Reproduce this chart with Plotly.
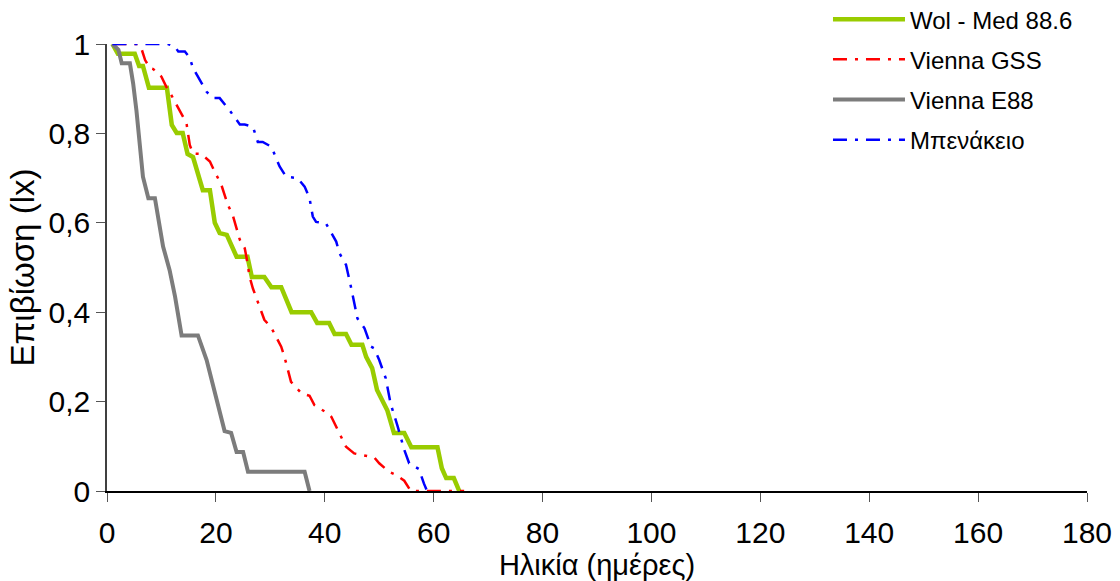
import plotly.graph_objects as go

# survival curves (age in days, lx)
wol_days = [1, 2, 5.1, 5.9, 6.6, 7.7, 11.0, 11.9, 12.8, 13.9, 14.8, 15.8, 17.6, 18.9, 19.8, 20.7,
            22.0, 23.8, 25.8, 26.6, 28.9, 30.2, 32.0, 33.9, 37.5, 38.6, 40.8, 41.8, 43.9, 44.9,
            46.9, 47.6, 48.7, 49.6, 51.5, 52.7, 54.6, 55.9, 60.7, 61.5, 62.3, 63.7, 64.7]
wol_lx = [1.0, 0.978, 0.978, 0.951, 0.951, 0.902, 0.902, 0.819, 0.801, 0.801, 0.754, 0.747, 0.673,
          0.673, 0.600, 0.577, 0.573, 0.524, 0.524, 0.479, 0.479, 0.456, 0.456, 0.400, 0.400,
          0.376, 0.376, 0.351, 0.351, 0.327, 0.327, 0.300, 0.275, 0.226, 0.180, 0.130, 0.130,
          0.098, 0.098, 0.051, 0.029, 0.029, 0.0]

gss_days = [1, 5.7, 6.4, 7.0, 7.9, 8.5, 10.0, 10.9, 11.8, 13.4, 14.6, 15.2, 15.8, 17.3, 18.9, 19.8,
            21.0, 22.2, 23.1, 24.4, 25.3, 25.6, 26.2, 26.8, 28.9, 30.2, 32.0, 32.6, 33.8, 35.7,
            37.2, 38.1, 40.5, 41.2, 43.9, 45.4, 49.1, 50.0, 51.8, 53.1, 54.6, 55.8, 65.6]
gss_lx = [1.0, 1.0, 0.987, 0.964, 0.946, 0.944, 0.927, 0.904, 0.886, 0.849, 0.823, 0.774, 0.755,
          0.754, 0.737, 0.714, 0.685, 0.640, 0.617, 0.562, 0.543, 0.524, 0.479, 0.453, 0.383,
          0.365, 0.323, 0.300, 0.244, 0.219, 0.213, 0.192, 0.174, 0.166, 0.099, 0.084, 0.075,
          0.062, 0.043, 0.036, 0.023, 0.0, 0.0]

e88_days = [1, 2.1, 2.7, 4.2, 4.8, 5.4, 6.6, 7.6, 8.8, 9.7, 10.3, 11.5, 12.5, 13.7, 16.7, 18.3,
            20.4, 21.6, 22.8, 23.8, 25.0, 25.9, 36.3, 37.2]
e88_lx = [1.0, 0.987, 0.957, 0.957, 0.912, 0.852, 0.703, 0.655, 0.655, 0.591, 0.547, 0.494, 0.435,
          0.348, 0.348, 0.293, 0.192, 0.134, 0.130, 0.087, 0.087, 0.043, 0.043, 0.0]

ben_days = [1, 11.2, 12.5, 13.1, 14.3, 15.2, 15.8, 17.0, 18.3, 19.5, 20.7, 22.5, 23.8, 24.4, 25.3,
            26.8, 27.7, 28.6, 30.2, 31.7, 32.9, 35.0, 36.3, 37.2, 37.8, 38.4, 40.2, 42.1, 42.7,
            43.9, 44.8, 46.0, 47.3, 48.5, 49.1, 50.0, 51.2, 52.1, 53.4, 54.6, 55.5, 56.1, 57.3,
            58.2, 58.8]
ben_lx = [1.0, 1.0, 0.994, 0.983, 0.983, 0.969, 0.946, 0.920, 0.893, 0.879, 0.879, 0.852, 0.830,
          0.820, 0.820, 0.815, 0.781, 0.781, 0.770, 0.726, 0.703, 0.700, 0.681, 0.655, 0.614,
          0.602, 0.599, 0.558, 0.532, 0.506, 0.457, 0.386, 0.364, 0.323, 0.319, 0.293, 0.252,
          0.195, 0.144, 0.092, 0.062, 0.058, 0.049, 0.017, 0.0]

FONT = "Liberation Sans, Arial, sans-serif"

fig = go.Figure()
fig.add_trace(go.Scatter(x=wol_days, y=wol_lx, mode="lines", name="Wol - Med 88.6",
                         line=dict(color="#99CC00", width=4.5), legendgroup="a"))
fig.add_trace(go.Scatter(x=gss_days, y=gss_lx, mode="lines", name="Vienna GSS",
                         line=dict(color="#FF0000", width=2.5, dash="14px,8px,3px,8px"),
                         legendgroup="b"))
fig.add_trace(go.Scatter(x=e88_days, y=e88_lx, mode="lines", name="Vienna E88",
                         line=dict(color="#7c7c7c", width=4), legendgroup="c"))
fig.add_trace(go.Scatter(x=ben_days, y=ben_lx, mode="lines", name="Μπενάκειο",
                         line=dict(color="#0000FF", width=2.5, dash="14px,8px,3px,8px"),
                         legendgroup="d"))

fig.update_layout(
    width=1120, height=581,
    margin=dict(l=107, r=33, t=44, b=90, autoexpand=False),
    paper_bgcolor="white", plot_bgcolor="white",
    font=dict(family=FONT, color="black"),
    separators=",.",
    showlegend=True,
    legend=dict(x=0.7357, y=1.105, xanchor="left", yanchor="top",
                font=dict(size=24), tracegroupgap=6, traceorder="grouped",
                itemwidth=72, bgcolor="rgba(0,0,0,0)"),
)
fig.update_xaxes(range=[0, 180], dtick=20, tick0=0, showgrid=False, zeroline=False,
                 showline=True, linecolor="black", linewidth=1.5,
                 ticks="outside", ticklen=9, tickcolor="#555555",
                 tickfont=dict(size=30), ticklabelstandoff=5, automargin=False,
                 title=dict(text="Ηλικία (ημέρες)", font=dict(size=29), standoff=0))
fig.update_yaxes(range=[0, 1], dtick=0.2, tick0=0, showgrid=False, zeroline=False,
                 showline=True, linecolor="#404040", linewidth=1.5,
                 ticks="outside", ticklen=9, tickcolor="#555555",
                 tickfont=dict(size=30), automargin=False,
                 title=dict(text="Επιβίωση (lx)", font=dict(size=33), standoff=4))

# drop the page's default body margin so the figure sits at the window corner
fig.write_html("out.html", config={"displayModeBar": False},
               post_script="document.body.style.margin='0';")
